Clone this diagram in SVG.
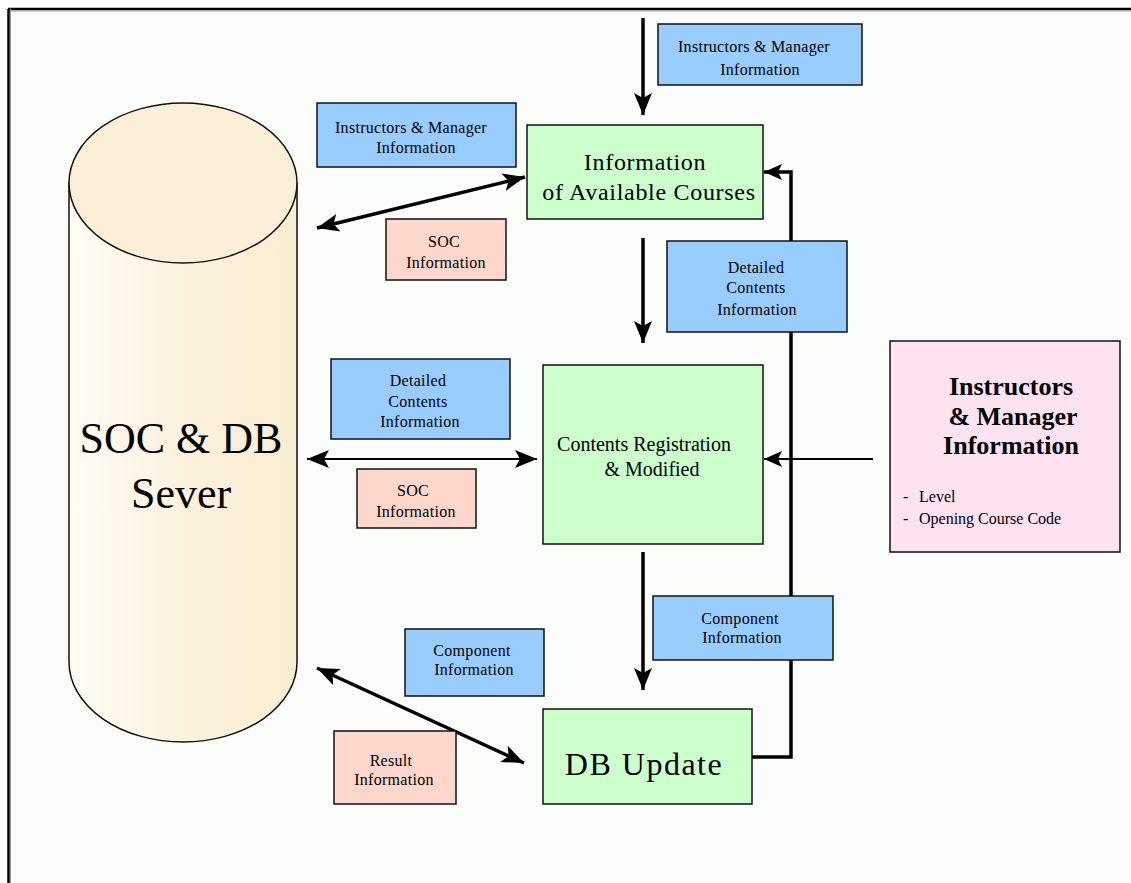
<svg xmlns="http://www.w3.org/2000/svg" width="1131" height="883" viewBox="0 0 1131 883">
<style>
.blue{fill:#99ccff;stroke:#111;stroke-width:1.5}
.green{fill:#ccffcc;stroke:#111;stroke-width:1.5}
.salmon{fill:#fdd6cc;stroke:#111;stroke-width:1.5}
.pink{fill:#fde2f0;stroke:#111;stroke-width:1.5}
.t{font-family:"Liberation Serif","Times New Roman",serif;fill:#000;text-anchor:middle}
.s{font-size:16px;letter-spacing:0.3px}
.c{stroke:#000;fill:none}
.thick{stroke-width:3.5}
.thin{stroke-width:2}
</style>
<defs>
<linearGradient id="cyl" x1="0" y1="0" x2="1" y2="0">
<stop offset="0" stop-color="#fefcf6"/>
<stop offset="0.6" stop-color="#fbf0d9"/>
<stop offset="1" stop-color="#f9edd2"/>
</linearGradient>
<marker id="ah" markerUnits="userSpaceOnUse" markerWidth="24" markerHeight="24" viewBox="0 0 24 24" refX="22" refY="12" orient="auto-start-reverse">
<path d="M0,3 L22,12 L0,21 L5,12 Z" fill="#000"/>
</marker>
<marker id="ahs" markerUnits="userSpaceOnUse" markerWidth="20" markerHeight="20" viewBox="0 0 20 20" refX="18" refY="10" orient="auto-start-reverse">
<path d="M0,2 L18,10 L0,18 L4,10 Z" fill="#000"/>
</marker>
</defs>
<rect x="0" y="0" width="1131" height="883" fill="#ffffff"/>
<rect x="8" y="9" width="1123" height="874" fill="#fbfdfb"/>
<line x1="8" y1="9" x2="1131" y2="9" stroke="#000" stroke-width="2.5"/>
<line x1="8" y1="11" x2="1131" y2="11" stroke="#999" stroke-width="1"/>
<line x1="8.5" y1="9" x2="8.5" y2="883" stroke="#000" stroke-width="2.5"/>
<line x1="10.5" y1="9" x2="10.5" y2="883" stroke="#999" stroke-width="1"/>

<g id="server">
<path d="M69,183 V662 A114,80 0 0 0 297,662 V183 Z" fill="url(#cyl)" stroke="#111" stroke-width="1.5"/>
<ellipse cx="183" cy="183" rx="114" ry="80" fill="#fbefd8" stroke="#111" stroke-width="1.5"/>
<text class="t" x="181" y="453" font-size="44">SOC &amp; DB</text>
<text class="t" x="181" y="508" font-size="44">Sever</text>
</g>

<g id="connectors">
<path class="c thick" d="M643,18 V115" marker-end="url(#ah)"/>
<path class="c thick" d="M643,238 V343" marker-end="url(#ah)"/>
<path class="c thick" d="M643,552 V690" marker-end="url(#ah)"/>
<path class="c thick" d="M317,228 L525,177" marker-start="url(#ah)" marker-end="url(#ah)"/>
<path class="c thin" d="M307,459 H537" marker-start="url(#ah)" marker-end="url(#ah)"/>
<path class="c thick" d="M317,668 L524,763" marker-start="url(#ah)" marker-end="url(#ah)"/>
<path class="c thick" d="M752,757 H791 V172 H764" marker-end="url(#ahs)"/>
<path class="c thin" d="M873,459 H764" marker-end="url(#ahs)"/>
</g>

<g id="label-top-instructors">
<rect class="blue" x="658" y="24" width="204" height="61"/>
<text class="t s" x="754" y="52">Instructors &amp; Manager</text>
<text class="t s" x="760" y="75">Information</text>
</g>

<g id="label-left-instructors">
<rect class="blue" x="317" y="103" width="199" height="64"/>
<text class="t s" x="411" y="133">Instructors &amp; Manager</text>
<text class="t s" x="416" y="153">Information</text>
</g>

<g id="available-courses">
<rect class="green" x="527" y="125" width="236" height="94"/>
<text class="t" x="645" y="170" font-size="24" letter-spacing="0.7">Information</text>
<text class="t" x="649" y="200" font-size="24" letter-spacing="0.7">of Available Courses</text>
</g>

<g id="label-soc-1">
<rect class="salmon" x="386" y="219" width="120" height="61"/>
<text class="t s" x="444" y="247">SOC</text>
<text class="t s" x="446" y="268">Information</text>
</g>

<g id="label-detailed-right">
<rect class="blue" x="667" y="241" width="180" height="91"/>
<text class="t s" x="756" y="273">Detailed</text>
<text class="t s" x="756" y="293">Contents</text>
<text class="t s" x="757" y="315">Information</text>
</g>

<g id="label-detailed-left">
<rect class="blue" x="331" y="359" width="179" height="80"/>
<text class="t s" x="418" y="386">Detailed</text>
<text class="t s" x="418" y="407">Contents</text>
<text class="t s" x="420" y="427">Information</text>
</g>

<g id="label-soc-2">
<rect class="salmon" x="357" y="469" width="119" height="59"/>
<text class="t s" x="413" y="496">SOC</text>
<text class="t s" x="416" y="517">Information</text>
</g>

<g id="contents-registration">
<rect class="green" x="543" y="365" width="220" height="179"/>
<text class="t" x="644" y="451" font-size="20">Contents Registration</text>
<text class="t" x="652" y="476" font-size="20">&amp; Modified</text>
</g>

<g id="instructors-info">
<rect class="pink" x="890" y="341" width="230" height="211"/>
<text class="t" x="1011" y="395" font-size="26" font-weight="bold">Instructors</text>
<text class="t" x="1013" y="425" font-size="26" font-weight="bold">&amp; Manager</text>
<text class="t" x="1011" y="454" font-size="26" font-weight="bold">Information</text>
<text x="903" y="502" font-family="Liberation Serif, serif" font-size="16">-</text>
<text x="919" y="502" font-family="Liberation Serif, serif" font-size="16">Level</text>
<text x="903" y="524" font-family="Liberation Serif, serif" font-size="16">-</text>
<text x="919" y="524" font-family="Liberation Serif, serif" font-size="16">Opening Course Code</text>
</g>

<g id="label-component-right">
<rect class="blue" x="653" y="596" width="180" height="64"/>
<text class="t s" x="740" y="624">Component</text>
<text class="t s" x="742" y="643">Information</text>
</g>

<g id="label-component-left">
<rect class="blue" x="405" y="629" width="139" height="67"/>
<text class="t s" x="472" y="656">Component</text>
<text class="t s" x="474" y="675">Information</text>
</g>

<g id="label-result">
<rect class="salmon" x="334" y="731" width="122" height="73"/>
<text class="t s" x="391" y="766">Result</text>
<text class="t s" x="394" y="785">Information</text>
</g>

<g id="db-update">
<rect class="green" x="543" y="709" width="209" height="95"/>
<text class="t" x="644" y="775" font-size="32" letter-spacing="1.5">DB Update</text>
</g>
</svg>
